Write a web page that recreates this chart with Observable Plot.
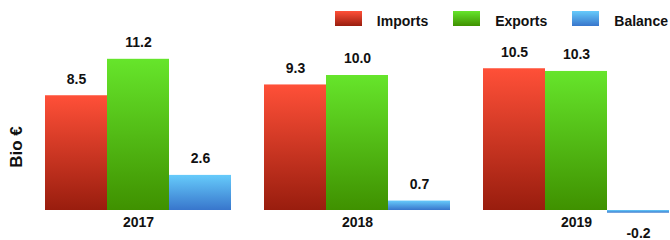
<!DOCTYPE html>
<html>
<head>
<meta charset="utf-8">
<script src="https://cdn.jsdelivr.net/npm/d3@7"></script>
<script src="https://cdn.jsdelivr.net/npm/@observablehq/plot@0.6"></script>
<style>
  html, body { margin: 0; padding: 0; background: #fff; }
  body { width: 670px; height: 240px; overflow: hidden; position: relative;
         font-family: "Liberation Sans", Arial, Helvetica, sans-serif; color: #111; }
  #legend { height: 35px; display: flex; justify-content: flex-end; align-items: flex-start;
            padding-right: 2px; box-sizing: border-box; }
  .item { display: flex; align-items: flex-start; margin-left: 25px; }
  .sw { width: 27px; height: 15px; margin-top: 11px; margin-right: 15px; }
  .lab { font-size: 14px; font-weight: bold; margin-top: 14px; line-height: 15px; }
  #ylabel { position: absolute; left: 17px; top: 147px; transform: translate(-50%, -50%) rotate(-90deg);
            font-size: 17px; font-weight: bold; white-space: nowrap; }
  svg { display: block; }
</style>
</head>
<body>
<div id="legend"></div>
<div id="ylabel">Bio €</div>
<div id="chart"></div>
<script>
const years = ["2017", "2018", "2019"];
const series = ["Imports", "Exports", "Balance"];
const imports = [8.5, 9.3, 10.5];
const exportsV = [11.2, 10.0, 10.3];
const balance = [2.6, 0.7, -0.2];
const gradTop = ["#ff5038", "#66e52b", "#66cbfb"];
const gradBottom = ["#991d0e", "#3f9100", "#3876cc"];

const values = [imports, exportsV, balance];
const data = years.flatMap((y, i) => series.map((s, j) => ({ year: y, series: s, value: values[j][i] })));

// legend
const legend = document.getElementById("legend");
series.forEach((s, j) => {
  const it = document.createElement("div");
  it.className = "item";
  const sw = document.createElement("div");
  sw.className = "sw";
  sw.style.background = `linear-gradient(to bottom, ${gradTop[j]}, ${gradBottom[j]})`;
  const lab = document.createElement("div");
  lab.className = "lab";
  lab.textContent = s;
  it.append(sw, lab);
  legend.append(it);
});

const gradId = s => "grad-" + s;
const defsMark = () => {
  const defs = d3.create("svg:defs");
  series.forEach((s, j) => {
    const lg = defs.append("linearGradient").attr("id", gradId(s))
      .attr("x1", 0).attr("y1", 0).attr("x2", 0).attr("y2", 1);
    lg.append("stop").attr("offset", "0%").attr("stop-color", gradTop[j]);
    lg.append("stop").attr("offset", "100%").attr("stop-color", gradBottom[j]);
  });
  return defs.node();
};

const pxPerUnit = 13.5, zeroY = 175, H = 205;
const chart = Plot.plot({
  width: 670,
  height: H,
  marginLeft: 44,
  marginRight: 0,
  marginTop: 0,
  marginBottom: 0,
  style: { fontFamily: '"Liberation Sans", Arial, sans-serif', color: "#111", background: "transparent" },
  fx: { domain: years, paddingInner: 0.15, paddingOuter: 0, axis: null, label: null },
  x: { domain: series, padding: 0, axis: null },
  y: { domain: [-(H - zeroY) / pxPerUnit, zeroY / pxPerUnit], range: [H, 0], axis: null },
  marks: [
    defsMark,
    ...series.map(s => Plot.barY(data.filter(d => d.series === s), {
      fx: "year", x: "series", y: "value", fill: `url(#${gradId(s)})`
    })),
    Plot.text(data.filter(d => d.value >= 0), {
      fx: "year", x: "series", y: "value", text: d => d.value.toFixed(1),
      dy: -16.5, fontSize: 14, fontWeight: "bold", fill: "#111"
    }),
    Plot.text(data.filter(d => d.value < 0), {
      fx: "year", x: "series", y: "value", text: d => d.value.toFixed(1),
      dy: 20, fontSize: 14, fontWeight: "bold", fill: "#111"
    }),
    Plot.text(years, {
      fx: d => d, y: 0, text: d => d, dy: 12.5, fontSize: 14, fontWeight: "bold", fill: "#111"
    })
  ]
});
document.getElementById("chart").append(chart);
</script>
</body>
</html>
